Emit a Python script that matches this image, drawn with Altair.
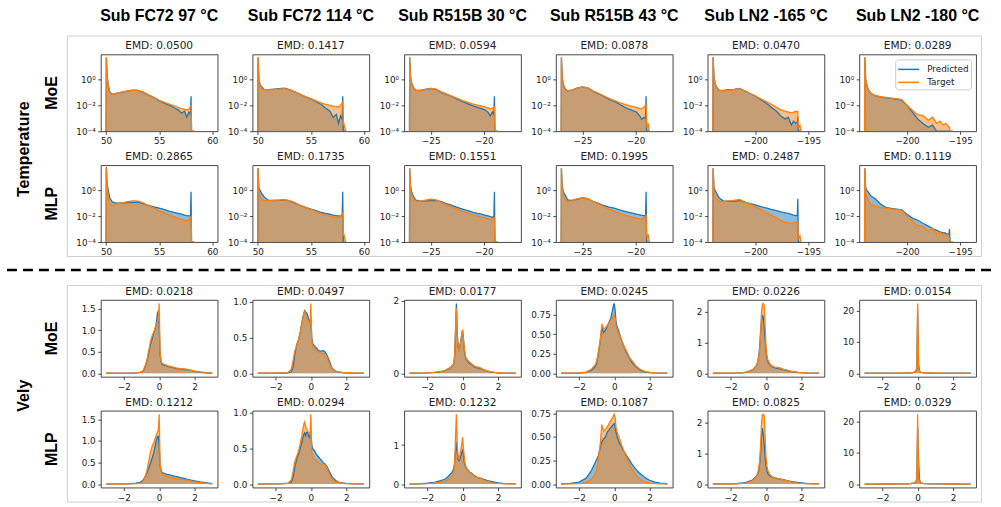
import altair as alt
import pandas as pd

BLUE = "#1f77b4"
ORANGE = "#ff7f0e"

# ---------------- labels ----------------
HEADERS = ["Sub FC72 97 °C", "Sub FC72 114 °C", "Sub R515B 30 °C",
           "Sub R515B 43 °C", "Sub LN2 -165 °C", "Sub LN2 -180 °C"]
EMD_TEMP_MOE = ["0.0500", "0.1417", "0.0594", "0.0878", "0.0470", "0.0289"]
EMD_TEMP_MLP = ["0.2865", "0.1735", "0.1551", "0.1995", "0.2487", "0.1119"]
EMD_VELY_MOE = ["0.0218", "0.0497", "0.0177", "0.0245", "0.0226", "0.0154"]
EMD_VELY_MLP = ["0.1212", "0.0294", "0.1232", "0.1087", "0.0825", "0.0329"]

# ---------------- temperature histograms (density, log scale) ----------------
FC72_X = [50.0, 50.02, 50.1, 50.2, 50.35, 50.6, 51.0, 51.5, 52.0, 52.5, 53.0, 53.5,
          54.0, 54.5, 55.0, 55.5, 56.0, 56.4, 56.8, 57.1, 57.4, 57.6, 57.8, 57.95,
          58.0, 58.05, 58.1, 58.2, 58.3]
R515B_X = [-27.0, -26.98, -26.9, -26.8, -26.65, -26.4, -26.0, -25.5, -25.0, -24.5,
           -24.0, -23.5, -23.0, -22.5, -22.0, -21.5, -21.0, -20.6, -20.2, -19.9,
           -19.6, -19.4, -19.2, -19.05, -19.0, -18.95, -18.9, -18.8, -18.7]
LN2_X = [-204.0, -203.98, -203.9, -203.8, -203.65, -203.4, -203.0, -202.5, -202.0,
         -201.5, -201.0, -200.5, -200.0, -199.5, -199.0, -198.5, -198.0, -197.6,
         -197.2, -196.9, -196.6, -196.4, -196.2, -196.05, -196.0, -195.95, -195.9,
         -195.8, -195.7]

fc72_97_target = [1e-4, 50, 1.5, 0.3, 0.09, 0.068, 0.086, 0.105, 0.128, 0.15, 0.145, 0.105,
                  0.065, 0.042, 0.024, 0.017, 0.012, 0.009, 0.0068, 0.0055, 0.0048, 0.0045,
                  0.005, 0.0085, 0.009, 1e-4, 1e-4, 1e-4, 1e-4]
fc72_97_moe = [1e-4, 50, 2.0, 0.4, 0.1, 0.07, 0.085, 0.105, 0.125, 0.148, 0.14, 0.1,
               0.062, 0.04, 0.022, 0.015, 0.01, 0.0065, 0.0045, 0.0025, 0.0035, 0.0012,
               0.003, 0.002, 0.05, 1e-4, 1e-4, 1e-4, 1e-4]
fc72_97_mlp = [1e-4, 60, 3.0, 1.0, 0.25, 0.12, 0.1, 0.105, 0.11, 0.115, 0.12, 0.09,
               0.066, 0.052, 0.041, 0.031, 0.023, 0.019, 0.016, 0.014, 0.012, 0.011,
               0.0105, 0.011, 0.74, 1e-4, 1e-4, 1e-4, 1e-4]

fc72_114_target = [1e-4, 50, 0.9, 0.4, 0.2, 0.16, 0.155, 0.165, 0.175, 0.19, 0.155, 0.11,
                   0.068, 0.047, 0.033, 0.022, 0.015, 0.012, 0.01, 0.0088, 0.008, 0.0078,
                   0.01, 0.016, 0.018, 0.0003, 0.0004, 0.0002, 1e-4]
fc72_114_moe = [1e-4, 50, 1.2, 0.46, 0.27, 0.17, 0.16, 0.175, 0.19, 0.21, 0.16, 0.11,
                0.07, 0.045, 0.032, 0.019, 0.011, 0.006, 0.0035, 0.0012, 0.002, 0.0004,
                0.0015, 0.0008, 0.05, 1e-4, 1e-4, 1e-4, 1e-4]
fc72_114_mlp = [1e-4, 50, 1.5, 1.0, 0.6, 0.3, 0.17, 0.16, 0.165, 0.18, 0.15, 0.1,
                0.066, 0.048, 0.035, 0.026, 0.019, 0.016, 0.014, 0.012, 0.011, 0.0105,
                0.01, 0.011, 0.74, 1e-4, 1e-4, 1e-4, 1e-4]

r515b_30_target = [1e-4, 50, 1.2, 0.5, 0.25, 0.15, 0.14, 0.17, 0.2, 0.18, 0.11, 0.075,
                   0.052, 0.034, 0.023, 0.017, 0.0125, 0.0105, 0.0085, 0.0075, 0.0062,
                   0.0055, 0.006, 0.007, 0.0075, 1e-4, 1e-4, 1e-4, 1e-4]
r515b_30_moe = [1e-4, 50, 1.5, 0.5, 0.25, 0.15, 0.14, 0.17, 0.2, 0.17, 0.1, 0.07,
                0.048, 0.03, 0.019, 0.013, 0.009, 0.007, 0.0055, 0.0045, 0.003, 0.0015,
                0.003, 0.002, 0.05, 1e-4, 1e-4, 1e-4, 1e-4]
r515b_30_mlp = [1e-4, 50, 2.0, 0.8, 0.35, 0.17, 0.145, 0.15, 0.16, 0.16, 0.13, 0.09,
                0.066, 0.048, 0.035, 0.026, 0.0195, 0.016, 0.014, 0.012, 0.0105, 0.009,
                0.0085, 0.0085, 0.74, 1e-4, 1e-4, 1e-4, 1e-4]

r515b_43_target = [1e-4, 50, 1.2, 0.4, 0.2, 0.135, 0.15, 0.21, 0.26, 0.22, 0.13, 0.085,
                   0.055, 0.034, 0.023, 0.016, 0.012, 0.0095, 0.0078, 0.007, 0.0058,
                   0.0055, 0.0075, 0.01, 0.011, 0.0004, 0.0002, 0.0004, 1e-4]
r515b_43_moe = [1e-4, 50, 1.3, 0.4, 0.2, 0.13, 0.15, 0.21, 0.26, 0.22, 0.125, 0.08,
                0.05, 0.03, 0.02, 0.012, 0.007, 0.005, 0.0038, 0.003, 0.0015, 0.0008,
                0.0012, 0.001, 0.05, 1e-4, 1e-4, 1e-4, 1e-4]
r515b_43_mlp = [1e-4, 50, 2.0, 0.7, 0.45, 0.18, 0.16, 0.2, 0.25, 0.22, 0.14, 0.095,
                0.066, 0.05, 0.041, 0.03, 0.023, 0.019, 0.016, 0.014, 0.0125, 0.0115,
                0.011, 0.011, 0.74, 1e-4, 1e-4, 1e-4, 1e-4]

ln2_165_target = [1e-4, 50, 1.2, 0.45, 0.22, 0.14, 0.13, 0.15, 0.16, 0.19, 0.125, 0.08,
                  0.054, 0.032, 0.02, 0.012, 0.007, 0.0045, 0.0035, 0.003, 0.0026, 0.003,
                  0.0035, 0.003, 0.0032, 0.0003, 0.0002, 0.0003, 1e-4]
ln2_165_moe = [1e-4, 50, 1.6, 0.5, 0.25, 0.15, 0.14, 0.16, 0.17, 0.2, 0.13, 0.08,
               0.05, 0.028, 0.015, 0.007, 0.0035, 0.0015, 0.0009, 0.0012, 0.0003, 0.0006,
               0.0004, 0.0005, 0.0013, 1e-4, 1e-4, 1e-4, 1e-4]
ln2_165_mlp = [1e-4, 50, 1.8, 1.0, 0.6, 0.25, 0.145, 0.14, 0.14, 0.16, 0.12, 0.09,
               0.074, 0.055, 0.043, 0.033, 0.026, 0.021, 0.018, 0.016, 0.0135, 0.012,
               0.011, 0.011, 0.22, 1e-4, 1e-4, 1e-4, 1e-4]

ln2_180_target = [1e-4, 50, 1.0, 0.35, 0.16, 0.085, 0.056, 0.047, 0.041, 0.036, 0.033, 0.028,
                  0.01, 0.0042, 0.0019, 0.0016, 0.0007, 0.0012, 0.0004, 0.0006, 0.0003,
                  0.0004, 0.0003, 0.0002, 0.0002, 1e-4, 1e-4, 1e-4, 1e-4]
ln2_180_moe = [1e-4, 50, 1.2, 0.4, 0.17, 0.085, 0.055, 0.045, 0.038, 0.034, 0.03, 0.025,
               0.01, 0.003, 0.0009, 0.0004, 0.0002, 0.0003, 1e-4, 1e-4, 1e-4, 1e-4,
               1e-4, 1e-4, 1e-4, 1e-4, 1e-4, 1e-4, 1e-4]
ln2_180_mlp = [1e-4, 50, 1.6, 1.0, 0.7, 0.35, 0.22, 0.085, 0.048, 0.04, 0.035, 0.03,
               0.014, 0.007, 0.0048, 0.0028, 0.0017, 0.0011, 0.0008, 0.0006, 0.0005,
               0.0005, 0.0004, 0.0004, 0.001, 1e-4, 1e-4, 1e-4, 1e-4]

# ---------------- vely histograms (density, linear scale) ----------------
V_X = [-3.0, -2.5, -2.0, -1.6, -1.3, -1.1,
       -1.0, -0.9, -0.8, -0.7, -0.6,
       -0.5, -0.45, -0.4, -0.35, -0.3,
       -0.25, -0.2, -0.15, -0.1, -0.05,
       0.0, 0.05, 0.1, 0.15, 0.2,
       0.3, 0.4, 0.5, 0.6, 0.7,
       0.8, 0.9, 1.0, 1.2, 1.4,
       1.6, 1.8, 2.0, 2.3, 2.6, 3.0]

fc72_97_v_target = [0.0, 0.001, 0.002, 0.005, 0.01, 0.02,
                    0.03, 0.07, 0.16, 0.3, 0.5,
                    0.72, 0.8, 0.87, 0.92, 0.96,
                    1.03, 1.1, 1.15, 1.2, 1.24,
                    1.62, 0.48, 0.3, 0.24, 0.22,
                    0.2, 0.19, 0.17, 0.16, 0.15,
                    0.14, 0.13, 0.12, 0.11, 0.1,
                    0.09, 0.07, 0.05, 0.03, 0.015, 0.004]
fc72_97_v_moe = [0.0, 0.001, 0.002, 0.005, 0.01, 0.02,
                 0.03, 0.06, 0.14, 0.27, 0.45,
                 0.65, 0.73, 0.8, 0.87, 0.93,
                 1.0, 1.08, 1.2, 1.38, 1.45,
                 1.1, 0.45, 0.28, 0.22, 0.2,
                 0.18, 0.17, 0.16, 0.15, 0.14,
                 0.13, 0.12, 0.11, 0.1, 0.09,
                 0.08, 0.065, 0.045, 0.025, 0.012, 0.003]
fc72_97_v_mlp = [0.0, 0.002, 0.005, 0.01, 0.02, 0.04,
                 0.06, 0.1, 0.16, 0.25, 0.36,
                 0.48, 0.54, 0.6, 0.66, 0.74,
                 0.84, 0.94, 1.03, 1.1, 1.11,
                 0.9, 0.45, 0.33, 0.28, 0.26,
                 0.25, 0.23, 0.22, 0.21, 0.2,
                 0.19, 0.18, 0.17, 0.15, 0.13,
                 0.11, 0.09, 0.075, 0.05, 0.03, 0.008]

fc72_114_v_target = [0.0, 0.001, 0.002, 0.004, 0.008, 0.06,
                     0.19, 0.32, 0.39, 0.46, 0.57,
                     0.7, 0.77, 0.84, 0.87, 0.81,
                     0.78, 0.75, 0.73, 0.71, 0.69,
                     0.98, 0.45, 0.38, 0.36, 0.35,
                     0.33, 0.31, 0.29, 0.28, 0.28,
                     0.27, 0.23, 0.16, 0.06, 0.03,
                     0.018, 0.01, 0.007, 0.004, 0.002, 0.001]
fc72_114_v_moe = [0.0, 0.001, 0.002, 0.004, 0.006, 0.02,
                  0.1, 0.28, 0.4, 0.47, 0.58,
                  0.72, 0.79, 0.84, 0.88, 0.86,
                  0.85, 0.83, 0.78, 0.75, 0.72,
                  0.75, 0.5, 0.42, 0.4, 0.38,
                  0.36, 0.33, 0.31, 0.31, 0.32,
                  0.3, 0.26, 0.2, 0.07, 0.03,
                  0.016, 0.01, 0.006, 0.003, 0.002, 0.001]
fc72_114_v_mlp = [0.0, 0.001, 0.003, 0.006, 0.012, 0.03,
                  0.1, 0.25, 0.35, 0.42, 0.5,
                  0.6, 0.65, 0.7, 0.72, 0.68,
                  0.72, 0.73, 0.69, 0.66, 0.7,
                  0.7, 0.55, 0.5, 0.48, 0.47,
                  0.42, 0.39, 0.36, 0.33, 0.3,
                  0.28, 0.25, 0.2, 0.1, 0.05,
                  0.025, 0.015, 0.01, 0.005, 0.003, 0.001]

r515b_30_v_target = [0.0, 0.003, 0.01, 0.025, 0.045, 0.065,
                     0.08, 0.1, 0.13, 0.16, 0.2,
                     0.27, 0.48, 1.2, 1.79, 1.0,
                     0.7, 0.63, 0.75, 0.88, 1.02,
                     1.2, 0.92, 0.66, 0.5, 0.43,
                     0.35, 0.3, 0.26, 0.22, 0.19,
                     0.17, 0.17, 0.15, 0.1, 0.065,
                     0.04, 0.025, 0.015, 0.007, 0.003, 0.001]
r515b_30_v_moe = [0.0, 0.003, 0.01, 0.022, 0.04, 0.06,
                  0.075, 0.095, 0.12, 0.15, 0.19,
                  0.26, 0.45, 1.1, 1.92, 1.1,
                  0.72, 0.65, 0.77, 0.9, 1.05,
                  1.18, 0.95, 0.64, 0.47, 0.4,
                  0.32, 0.27, 0.24, 0.2, 0.17,
                  0.15, 0.15, 0.13, 0.09, 0.06,
                  0.035, 0.022, 0.013, 0.006, 0.003, 0.001]
r515b_30_v_mlp = [0.0, 0.006, 0.02, 0.045, 0.08, 0.11,
                  0.13, 0.16, 0.2, 0.25, 0.3,
                  0.4, 0.55, 0.85, 1.07, 0.8,
                  0.63, 0.6, 0.65, 0.72, 0.8,
                  0.86, 0.75, 0.55, 0.47, 0.42,
                  0.36, 0.31, 0.28, 0.24, 0.21,
                  0.18, 0.16, 0.15, 0.12, 0.09,
                  0.07, 0.05, 0.03, 0.018, 0.01, 0.003]

r515b_43_v_target = [0.0, 0.001, 0.004, 0.015, 0.05, 0.1,
                     0.15, 0.27, 0.41, 0.63, 0.56,
                     0.58, 0.59, 0.61, 0.62, 0.64,
                     0.66, 0.67, 0.69, 0.7, 0.72,
                     0.74, 0.7, 0.6, 0.56, 0.53,
                     0.48, 0.42, 0.37, 0.32, 0.28,
                     0.23, 0.19, 0.16, 0.1, 0.06,
                     0.033, 0.02, 0.01, 0.005, 0.002, 0.001]
r515b_43_v_moe = [0.0, 0.001, 0.003, 0.012, 0.035, 0.08,
                  0.12, 0.25, 0.4, 0.58, 0.52,
                  0.55, 0.57, 0.6, 0.62, 0.65,
                  0.67, 0.7, 0.75, 0.8, 0.86,
                  0.89, 0.8, 0.65, 0.6, 0.57,
                  0.5, 0.43, 0.37, 0.31, 0.26,
                  0.22, 0.18, 0.14, 0.09, 0.05,
                  0.025, 0.015, 0.008, 0.004, 0.002, 0.001]
r515b_43_v_mlp = [0.003, 0.008, 0.02, 0.06, 0.14, 0.22,
                  0.26, 0.3, 0.38, 0.45, 0.48,
                  0.5, 0.52, 0.55, 0.56, 0.57,
                  0.59, 0.6, 0.61, 0.62, 0.63,
                  0.64, 0.6, 0.55, 0.51, 0.48,
                  0.43, 0.4, 0.36, 0.33, 0.3,
                  0.27, 0.24, 0.21, 0.16, 0.12,
                  0.09, 0.06, 0.04, 0.02, 0.01, 0.003]

ln2_165_v_target = [0.0, 0.002, 0.005, 0.01, 0.02, 0.04,
                    0.06, 0.08, 0.1, 0.14, 0.2,
                    0.3, 0.4, 0.55, 0.8, 1.3,
                    2.0, 2.26, 2.28, 2.22, 1.6,
                    0.9, 0.6, 0.45, 0.38, 0.33,
                    0.26, 0.22, 0.2, 0.19, 0.18,
                    0.17, 0.15, 0.13, 0.1, 0.07,
                    0.05, 0.03, 0.02, 0.01, 0.004, 0.001]
ln2_165_v_moe = [0.0, 0.002, 0.005, 0.01, 0.02, 0.04,
                 0.06, 0.08, 0.1, 0.14, 0.2,
                 0.3, 0.42, 0.6, 0.9, 1.4,
                 1.75, 1.9, 1.8, 1.5, 1.1,
                 0.75, 0.5, 0.4, 0.34, 0.3,
                 0.24, 0.2, 0.18, 0.16, 0.15,
                 0.14, 0.13, 0.12, 0.09, 0.065,
                 0.045, 0.03, 0.02, 0.01, 0.004, 0.001]
ln2_165_v_mlp = [0.001, 0.004, 0.01, 0.02, 0.04, 0.06,
                 0.08, 0.1, 0.12, 0.16, 0.22,
                 0.3, 0.36, 0.45, 0.7, 1.0,
                 1.6, 1.83, 1.6, 1.3, 0.9,
                 0.6, 0.45, 0.35, 0.31, 0.28,
                 0.24, 0.22, 0.2, 0.18, 0.17,
                 0.16, 0.15, 0.14, 0.11, 0.09,
                 0.07, 0.05, 0.04, 0.025, 0.015, 0.005]

ln2_180_v_target = [0.0, 0.005, 0.01, 0.015, 0.02, 0.03,
                    0.03, 0.04, 0.05, 0.06, 0.08,
                    0.1, 0.12, 0.14, 0.17, 0.2,
                    0.25, 0.35, 0.5, 0.8, 1.6,
                    22.3, 2.0, 0.7, 0.4, 0.3,
                    0.2, 0.15, 0.12, 0.1, 0.08,
                    0.07, 0.06, 0.05, 0.04, 0.03,
                    0.02, 0.015, 0.01, 0.008, 0.005, 0.002]
ln2_180_v_moe = [0.0, 0.005, 0.01, 0.015, 0.02, 0.03,
                 0.03, 0.04, 0.05, 0.06, 0.08,
                 0.1, 0.12, 0.14, 0.17, 0.2,
                 0.25, 0.35, 0.5, 0.8, 1.5,
                 20.0, 3.0, 0.9, 0.45, 0.3,
                 0.2, 0.15, 0.12, 0.1, 0.08,
                 0.07, 0.06, 0.05, 0.04, 0.03,
                 0.02, 0.015, 0.01, 0.008, 0.005, 0.002]
ln2_180_v_mlp = [0.0, 0.005, 0.01, 0.015, 0.02, 0.03,
                 0.03, 0.04, 0.05, 0.06, 0.08,
                 0.1, 0.12, 0.14, 0.17, 0.2,
                 0.25, 0.35, 0.5, 0.8, 1.4,
                 18.0, 8.0, 1.5, 0.6, 0.35,
                 0.2, 0.15, 0.12, 0.1, 0.08,
                 0.07, 0.06, 0.05, 0.04, 0.03,
                 0.02, 0.015, 0.01, 0.008, 0.005, 0.002]

# ---------------- axis settings per column ----------------
TEMP_COLS = [
    (FC72_X, fc72_97_target, fc72_97_moe, fc72_97_mlp, [49.5, 60.5], [50, 55, 60]),
    (FC72_X, fc72_114_target, fc72_114_moe, fc72_114_mlp, [49.5, 60.5], [50, 55, 60]),
    (R515B_X, r515b_30_target, r515b_30_moe, r515b_30_mlp, [-27.5, -16.5], [-25, -20]),
    (R515B_X, r515b_43_target, r515b_43_moe, r515b_43_mlp, [-27.5, -16.5], [-25, -20]),
    (LN2_X, ln2_165_target, ln2_165_moe, ln2_165_mlp, [-204.5, -193.5], [-200, -195]),
    (LN2_X, ln2_180_target, ln2_180_moe, ln2_180_mlp, [-204.5, -193.5], [-200, -195]),
]
VELY_COLS = [
    (fc72_97_v_target, fc72_97_v_moe, fc72_97_v_mlp, [0, 0.5, 1.0, 1.5], [0, 0.5, 1.0, 1.5], ".1f"),
    (fc72_114_v_target, fc72_114_v_moe, fc72_114_v_mlp, [0, 0.5, 1.0], [0, 0.5, 1.0], ".1f"),
    (r515b_30_v_target, r515b_30_v_moe, r515b_30_v_mlp, [0, 1, 2], [0, 1], "d"),
    (r515b_43_v_target, r515b_43_v_moe, r515b_43_v_mlp, [0, 0.25, 0.5, 0.75], [0, 0.25, 0.5, 0.75], ".2f"),
    (ln2_165_v_target, ln2_165_v_moe, ln2_165_v_mlp, [0, 1, 2], [0, 1, 2], "d"),
    (ln2_180_v_target, ln2_180_v_moe, ln2_180_v_mlp, [0, 10, 20], [0, 10, 20], "d"),
]

PANEL_W = 117
PANEL_H = 77
LABEL_W = 65
LOG_LABELS = "datum.value > 0.5 ? '10⁰' : (datum.value > 0.005 ? '10⁻²' : '10⁻⁴')"

# line-handle legend: a path from -1 to 2 (in symbol units) gives a wide, short handle
LEGEND = alt.Legend(orient="top-right", title=None, offset=5, fillColor="white",
                    strokeColor="#cccccc", cornerRadius=3, padding=2,
                    labelFont="DejaVu Sans", labelFontSize=8.85, labelColor="#222222",
                    symbolType="M-1,0H2", symbolSize=196, symbolStrokeWidth=1.5,
                    labelOffset=14, rowPadding=0)


def caption(text, y, font, size, weight, color):
    """Text centred over a panel, placed a fixed distance above its plot area."""
    return alt.Chart(pd.DataFrame({"t": [text]})).mark_text(
        font=font, fontSize=size, fontWeight=weight, color=color,
        align="center", baseline="alphabetic"
    ).encode(text="t:N", x=alt.value(PANEL_W / 2), y=alt.value(y))


def make_panel(xs, pred, targ, log_y, x_domain, x_ticks, y_ticks, y_format, emd,
               header=None, legend=False):
    n = len(xs)
    df = pd.DataFrame({
        "x": list(xs) + list(xs),
        "y": list(pred) + list(targ),
        "series": ["Predicted"] * n + ["Target"] * n,
    })
    x = alt.X("x:Q", scale=alt.Scale(domain=x_domain, nice=False, zero=False),
              axis=alt.Axis(values=x_ticks, format="d", title=None))
    if log_y:
        y_scale = alt.Scale(type="log", domain=[1e-4, 85], nice=False)
        y_axis = alt.Axis(values=[1e-4, 1e-2, 1], title=None, labelExpr=LOG_LABELS)
        floor = 1e-4
    else:
        top = max(max(pred), max(targ))
        y_scale = alt.Scale(domain=[-0.05 * top, 1.05 * top], nice=False, zero=False)
        y_axis = alt.Axis(values=y_ticks, format=y_format, title=None)
        floor = 0
    y = alt.Y("y:Q", scale=y_scale, axis=y_axis)
    base = alt.Chart(df)
    fill_pred = base.transform_filter(alt.datum.series == "Predicted").mark_area(
        color=BLUE, fillOpacity=0.5, clip=True).encode(x=x, y=y, y2=alt.datum(floor))
    fill_targ = base.transform_filter(alt.datum.series == "Target").mark_area(
        color=ORANGE, fillOpacity=0.5, clip=True).encode(x=x, y=y, y2=alt.datum(floor))
    color = alt.Color("series:N",
                      scale=alt.Scale(domain=["Predicted", "Target"], range=[BLUE, ORANGE]),
                      legend=LEGEND if legend else None)
    lines = base.mark_line(strokeWidth=1.3, clip=True).encode(x=x, y=y, color=color)
    layers = [fill_pred, fill_targ, lines,
              caption("EMD: " + emd, -5, "DejaVu Sans", 10.6, "normal", "#222222")]
    if header is not None:
        layers.append(caption(header, -33.5, "Liberation Sans", 16, "bold", "black"))
    return alt.layer(*layers).properties(width=PANEL_W, height=PANEL_H)


# ---------------- left label cells (carry the figure decorations) ----------------
ONE = pd.DataFrame({"k": [0]})


def text_mark(text, x, y):
    return alt.Chart(pd.DataFrame({"t": [text]})).mark_text(
        angle=270, font="Liberation Sans", fontSize=16, fontWeight="bold",
        color="black", align="center", baseline="middle"
    ).encode(text="t:N", x=alt.value(x), y=alt.value(y))


def extent_mark(y):
    # invisible full-width strip that fixes the block's outer extent
    return alt.Chart(ONE).mark_rect(opacity=0).encode(
        x=alt.value(0), x2=alt.value(1001), y=alt.value(y), y2=alt.value(y + 1))


def frame_mark(y1, y2):
    return alt.Chart(ONE).mark_rect(fillOpacity=0, stroke="#d0d0d0", strokeWidth=1).encode(
        x=alt.value(66.5), x2=alt.value(982.5), y=alt.value(y1), y2=alt.value(y2))


def cell(layers):
    return alt.layer(*layers).properties(
        width=LABEL_W, height=PANEL_H, view=alt.ViewBackground(stroke="transparent"))


# block 1 origin is the top-left of the first plot row (figure y = 53)
label_t1 = cell([
    extent_mark(-53), extent_mark(224),
    frame_mark(-18.5, 202.5),
    alt.Chart(ONE).mark_rule(color="black", strokeWidth=2.5, strokeDash=[10, 6]).encode(
        x=alt.value(6), x2=alt.value(996), y=alt.value(216)),
    text_mark("Temperature", 23, 95),
    text_mark("MoE", 51, PANEL_H / 2),
])
label_t2 = cell([text_mark("MLP", 51, PANEL_H / 2)])
# block 2 origin is the top-left of the third plot row (figure y = 297)
label_v1 = cell([
    extent_mark(-19), extent_mark(209),
    frame_mark(-14.5, 202.5),
    text_mark("Vely", 23, 96),
    text_mark("MoE", 51, PANEL_H / 2),
])
label_v2 = cell([text_mark("MLP", 51, PANEL_H / 2)])

temp_moe, temp_mlp, vely_moe, vely_mlp = [], [], [], []
for i, (xs, targ, moe, mlp, xdom, xt) in enumerate(TEMP_COLS):
    temp_moe.append(make_panel(xs, moe, targ, True, xdom, xt, None, None,
                               EMD_TEMP_MOE[i], header=HEADERS[i], legend=(i == 5)))
    temp_mlp.append(make_panel(xs, mlp, targ, True, xdom, xt, None, None, EMD_TEMP_MLP[i]))
for i, (targ, moe, mlp, yt_moe, yt_mlp, fmt) in enumerate(VELY_COLS):
    vely_moe.append(make_panel(V_X, moe, targ, False, [-3.3, 3.3], [-2, 0, 2], yt_moe, fmt,
                               EMD_VELY_MOE[i]))
    vely_mlp.append(make_panel(V_X, mlp, targ, False, [-3.3, 3.3], [-2, 0, 2], yt_mlp, fmt,
                               EMD_VELY_MLP[i]))


def block(cells):
    return alt.concat(*cells, columns=7, bounds="flush", align="each",
                      spacing=alt.RowColnumber(row=34, column=35)) \
        .resolve_scale(color="independent").resolve_legend(color="independent")


block_temp = block([label_t1] + temp_moe + [label_t2] + temp_mlp)
block_vely = block([label_v1] + vely_moe + [label_v2] + vely_mlp)

chart = alt.vconcat(block_temp, block_vely, spacing=0) \
    .resolve_scale(color="independent").resolve_legend(color="independent") \
    .properties(padding=0, background="white") \
    .configure_view(stroke="#333333", strokeWidth=0.9) \
    .configure_axis(grid=False, domain=False, ticks=True, tickColor="#222222", tickSize=3.1,
                    tickWidth=0.8, labelFont="DejaVu Sans", labelFontSize=8.85,
                    labelColor="#222222", labelPadding=2.5, labelFlush=False,
                    labelOverlap=False, labelBound=False)

chart.save("out.html", embed_options={"renderer": "svg", "actions": False})
